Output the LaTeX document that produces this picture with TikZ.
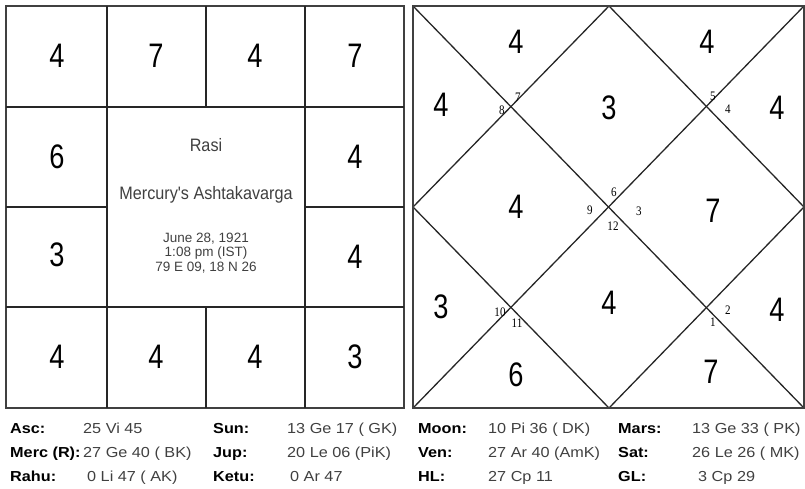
\documentclass[tikz,border=0pt]{standalone}
\usepackage{fontspec}
\setmainfont{Liberation Sans}
\newfontfamily\narrowfont[FakeStretch=0.8]{Liberation Sans}
\newfontfamily\midfont[FakeStretch=0.9]{Liberation Sans}
\newfontfamily\widefont[FakeStretch=1.12]{Liberation Sans}
\newfontfamily\signfont[FakeStretch=0.85]{Liberation Serif}
\begin{document}
\begin{tikzpicture}[x=1pt, y=-1pt,
    frame/.style={draw=black!75, line width=2.6pt},
    grid/.style={draw=black!85, line width=1.3pt},
    bignum/.style={inner sep=0pt, font=\narrowfont\fontsize{34}{34}\selectfont},
    signnum/.style={inner sep=0pt, font=\signfont\fontsize{13}{13}\selectfont},
    lbl/.style={anchor=base west, inner sep=0pt, font=\widefont\bfseries\fontsize{14.5}{14.5}\selectfont},
    val/.style={anchor=base west, inner sep=0pt, text=black!75, font=\widefont\fontsize{14.5}{14.5}\selectfont}]
  \useasboundingbox (0,0) rectangle (805,488);
  % South Indian chart (left)
  \begin{scope}
    \draw[frame] (6,6) rectangle (404,408);
    \draw[grid] (6,107) -- (404,107);
    \draw[grid] (6,307) -- (404,307);
    \draw[grid] (107,6) -- (107,408);
    \draw[grid] (305,6) -- (305,408);
    \draw[grid] (206,6) -- (206,107);
    \draw[grid] (206,307) -- (206,408);
    \draw[grid] (6,207) -- (107,207);
    \draw[grid] (305,207) -- (404,207);
  \end{scope}
  \foreach \x/\n [count=\i] in {57/4, 156/7, 255/4, 355/7}{
      \node[bignum] (top-\i) at (\x,56) {\n};
  }
  \foreach \x/\n [count=\i] in {57/4, 156/4, 255/4, 355/3}{
      \node[bignum] (bot-\i) at (\x,357) {\n};
  }
  \node[bignum] (west-1) at (57,157) {6};
  \node[bignum] (west-2) at (57,255) {3};
  \node[bignum] (east-1) at (355,157) {4};
  \node[bignum] (east-2) at (355,257) {4};
  % centre titles
  \node[text=black!75, font=\midfont\fontsize{18}{18}\selectfont] (rasi) at (206,145) {Rasi};
  \node[text=black!75, font=\midfont\fontsize{18}{18}\selectfont] (title) at (206,195) {Mercury's Ashtakavarga};
  \node[text=black!75, align=center, font=\fontsize{13.5}{14.5}\selectfont] (birth) at (206,253)
      {June 28, 1921\\1:08 pm (IST)\\79 E 09, 18 N 26};
  % North Indian chart (right)
  \begin{scope}
    \draw[grid] (413,6) -- (804,408);
    \draw[grid] (413,408) -- (804,6);
    \draw[grid] (609,6) -- (804,207) -- (609,408) -- (413,207) -- cycle;
    \draw[frame] (413,6) rectangle (804,408);
  \end{scope}
  \foreach \x/\y/\n [count=\i] in {516/42/4, 441/105/4, 609/108/3, 707/42/4, 777/108/4, 516/207/4,
      713/211/7, 441/307/3, 609/303/4, 777/310/4, 516/375/6, 711/372/7}{
      \node[bignum] (house-\i) at (\x,\y) {\n};
  }
  \foreach \x/\y/\n in {502/110/8, 518/97/7, 713/96/5, 728/109/4, 614/192/6, 639/211/3,
      590/210/9, 613/226/12, 500/312/10, 517/323/11, 713/322/1, 728/310/2}{
      \node[signnum] (sign-\n) at (\x,\y) {\n};
  }
  % planet positions
  \node[lbl] (asc) at (10,433) {Asc:};
  \node[val] (asc-v) at (83,433) {25 Vi 45};
  \node[lbl] (merc) at (10,457) {Merc (R):};
  \node[val] (merc-v) at (83,457) {27 Ge 40 ( BK)};
  \node[lbl] (rahu) at (10,481) {Rahu:};
  \node[val] (rahu-v) at (87,481) {0 Li 47 ( AK)};
  \node[lbl] (sun) at (213,433) {Sun:};
  \node[val] (sun-v) at (287,433) {13 Ge 17 ( GK)};
  \node[lbl] (jup) at (213,457) {Jup:};
  \node[val] (jup-v) at (287,457) {20 Le 06 (PiK)};
  \node[lbl] (ketu) at (213,481) {Ketu:};
  \node[val] (ketu-v) at (290,481) {0 Ar 47};
  \node[lbl] (moon) at (418,433) {Moon:};
  \node[val] (moon-v) at (488,433) {10 Pi 36 ( DK)};
  \node[lbl] (ven) at (418,457) {Ven:};
  \node[val] (ven-v) at (488,457) {27 Ar 40 (AmK)};
  \node[lbl] (hl) at (418,481) {HL:};
  \node[val] (hl-v) at (488,481) {27 Cp 11};
  \node[lbl] (mars) at (618,433) {Mars:};
  \node[val] (mars-v) at (692,433) {13 Ge 33 ( PK)};
  \node[lbl] (sat) at (618,457) {Sat:};
  \node[val] (sat-v) at (692,457) {26 Le 26 ( MK)};
  \node[lbl] (gl) at (618,481) {GL:};
  \node[val] (gl-v) at (698,481) {3 Cp 29};
\end{tikzpicture}
\end{document}
